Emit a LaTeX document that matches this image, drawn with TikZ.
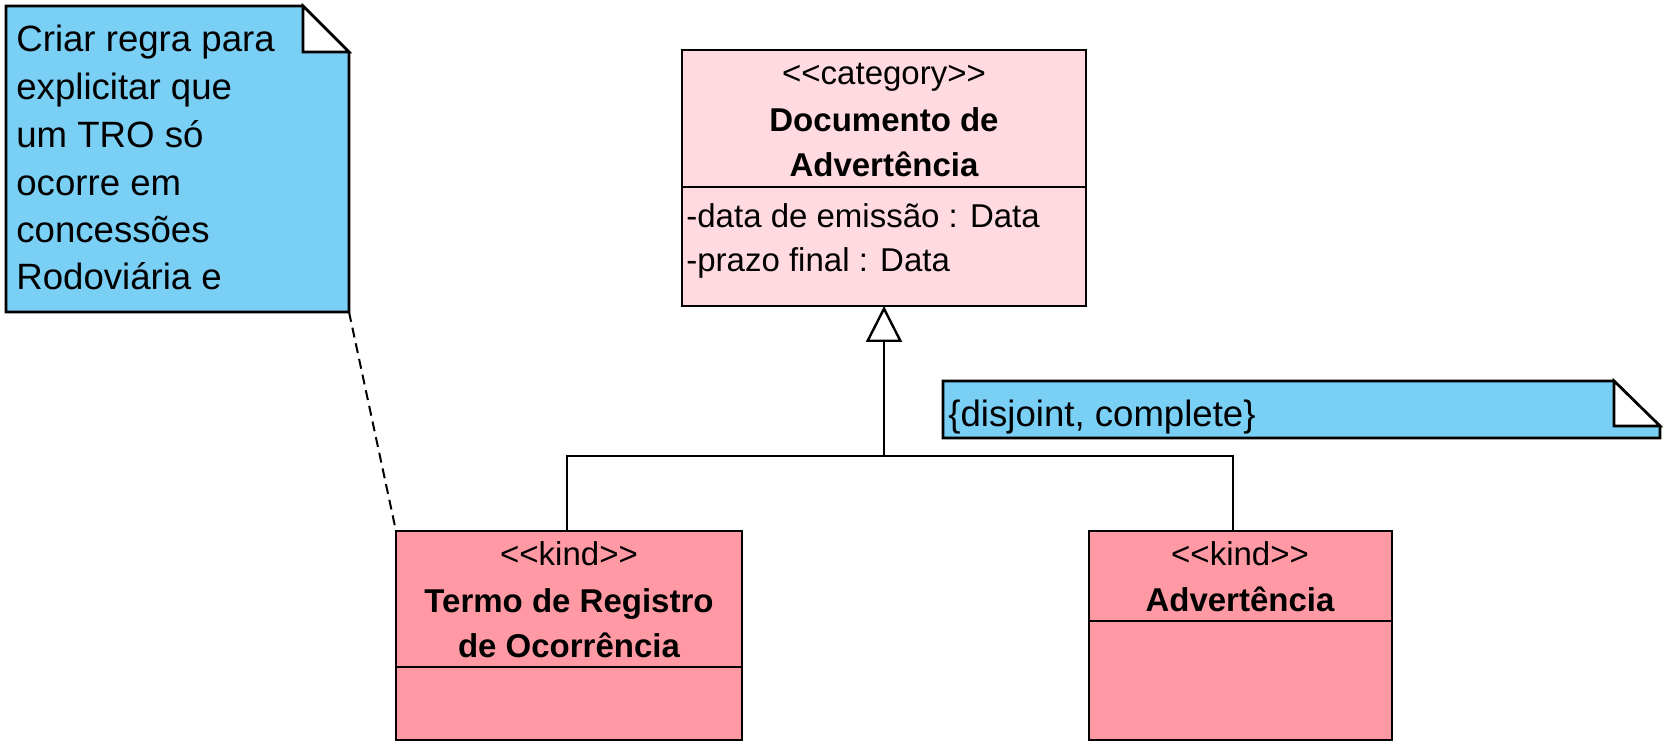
\documentclass[tikz,border=0pt]{standalone}
\usepackage{fontspec}
\setmainfont{Liberation Sans}
\usetikzlibrary{arrows.meta}
\definecolor{notecol}{RGB}{122,207,245}
\definecolor{catcol}{RGB}{255,218,224}
\definecolor{kindcol}{RGB}{255,153,164}
\newcommand\stL{<\kern0pt<}
\newcommand\stR{>\kern0pt>}
\begin{document}
\begin{tikzpicture}[x=0.5pt,y=-0.5pt,
  box/.style={draw, line width=1.3pt, inner sep=0pt, outer sep=0pt, anchor=north west},
  sepline/.style={line width=1.3pt},
  conn/.style={line width=1.1pt},
  cls/.style={font=\fontsize{16.5}{20}\selectfont, inner sep=0pt, anchor=base},
  clsb/.style={font=\fontsize{16.5}{20}\selectfont\bfseries, inner sep=0pt, anchor=base},
  attr/.style={font=\fontsize{16.5}{20}\selectfont, inner sep=0pt, anchor=base west},
  notetxt/.style={font=\fontsize{18.3}{22}\selectfont, inner sep=0pt, anchor=base west},
  notebody/.style={draw, line width=1.3pt, fill=notecol, line join=miter},
  notefold/.style={draw, line width=1.3pt, fill=white}]
\useasboundingbox (0,0) rectangle (1674,753);

% note 1
\path[notebody] (6,6) -- (303,6) -- (349,52) -- (349,312) -- (6,312) -- cycle;
\path[notefold] (303,6) -- (303,52) -- (349,52) -- cycle;
\coordinate (n1c) at (349,312);
\node[notetxt] (n1a) at (16,52) {Criar regra para};
\node[notetxt] (n1b) at (16,100) {explicitar que};
\node[notetxt] (n1c1) at (16,148) {um TRO só};
\node[notetxt] (n1d) at (16,196) {ocorre em};
\node[notetxt] (n1e) at (16,243) {concessões};
\node[notetxt] (n1f) at (16,290) {Rodoviária e};

% note 2
\path[notebody] (943,381) -- (1614,381) -- (1660,426) -- (1660,438) -- (943,438) -- cycle;
\path[notefold] (1614,381) -- (1614,426) -- (1660,426) -- cycle;
\node[notetxt] (n2) at (948,426) {\{disjoint, complete\}};

% category box
\node[box, fill=catcol, minimum width=202pt, minimum height=128pt] (cat) at (682,50) {};
\draw[sepline] (682,187) -- (1086,187);
\node[cls] (catst) at (884,85) {\stL category\stR};
\node[clsb] (catn1) at (884,132) {Documento de};
\node[clsb] (catn2) at (884,177) {Advertência};
\node[attr] (cata1) at (686,228) {-data de emissão : Data};
\node[attr] (cata2) at (686,272) {-prazo final : Data};

% kind 1
\node[box, fill=kindcol, minimum width=173pt, minimum height=104.5pt] (k1) at (396,531) {};
\draw[sepline] (396,667) -- (742,667);
\node[cls] (k1st) at (569,565) {\stL kind\stR};
\node[clsb] (k1n1) at (569,612) {Termo de Registro};
\node[clsb] (k1n2) at (569,657) {de Ocorrência};

% kind 2
\node[box, fill=kindcol, minimum width=151.5pt, minimum height=104.5pt] (k2) at (1089,531) {};
\draw[sepline] (1089,621) -- (1392,621);
\node[cls] (k2st) at (1240,565) {\stL kind\stR};
\node[clsb] (k2n) at (1240,611) {Advertência};

% generalization
\coordinate (j) at (884,456);
\coordinate (j1) at (567,456);
\coordinate (j2) at (1233,456);
\draw[conn] (j1 |- k1.north) -- (j1) -- (j2) -- (j2 |- k2.north);
\draw[conn, -{Triangle[open, length=18pt, width=18pt, line width=1.2pt]}] (j) -- (j |- cat.south);

% note anchor
\draw[line width=1pt, dash pattern=on 5pt off 3pt] (n1c) -- (k1.north west);
\end{tikzpicture}
\end{document}
